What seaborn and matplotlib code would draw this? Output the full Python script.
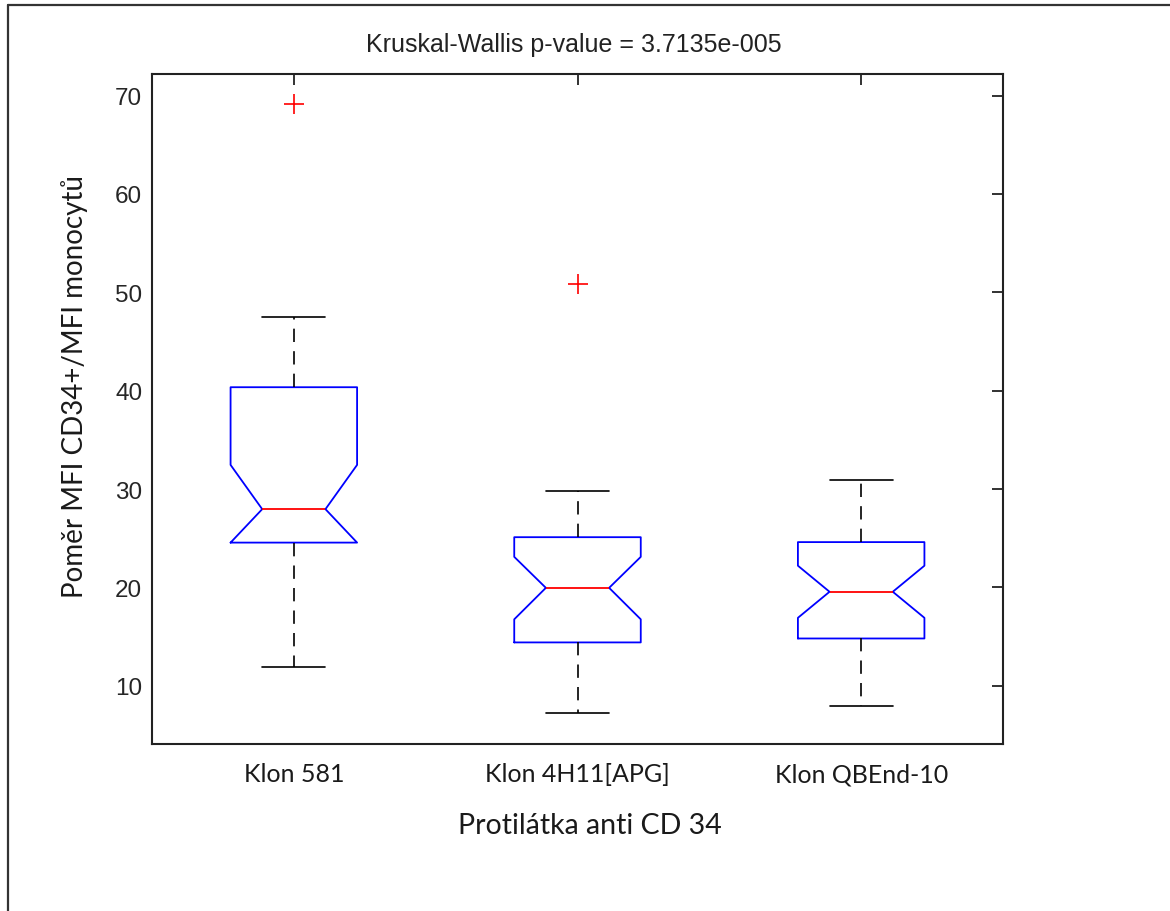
import matplotlib
matplotlib.use('Agg')
import matplotlib.pyplot as plt
import matplotlib.lines as mlines
import pandas as pd
import seaborn as sns

# Box statistics (notched boxplot, MATLAB look)
clones = ['Klon 581', 'Klon 4H11[APG]', 'Klon QBEnd-10']
q1 = [24.55, 14.4, 14.8]
medians = [27.95, 19.95, 19.55]
q3 = [40.35, 25.1, 24.6]
notch_lo = [24.55, 16.75, 16.9]
notch_hi = [32.45, 23.1, 22.2]
whisker_lo = [11.85, 7.2, 7.95]
whisker_hi = [47.5, 29.75, 30.9]

# Outliers (red +)
outlier_clone = ['Klon 581', 'Klon 4H11[APG]']
outlier_values = [69.2, 50.85]

title = 'Kruskal-Wallis p-value = 3.7135e-005'
xlabel = 'Protilátka anti CD 34'
ylabel = 'Poměr MFI CD34+/MFI monocytů'

sns.set_style('white')
plt.rcParams['font.family'] = ['Liberation Sans', 'DejaVu Sans']

fig = plt.figure(figsize=(11.7, 9.12), dpi=100)
ax = fig.add_axes([152 / 1170, 1 - 745 / 912, (1003 - 152) / 1170, (745 - 75) / 912])

# build the stats for bxp
stats = []
for i in range(len(clones)):
    stats.append({
        'label': clones[i],
        'med': medians[i],
        'q1': q1[i],
        'q3': q3[i],
        'cilo': notch_lo[i],
        'cihi': notch_hi[i],
        'whislo': whisker_lo[i],
        'whishi': whisker_hi[i],
        'fliers': [],
    })

ax.bxp(stats, positions=range(len(clones)), widths=0.446, shownotches=True,
       showfliers=False,
       boxprops=dict(color='blue', linewidth=1.3),
       medianprops=dict(color='red', linewidth=1.3),
       whiskerprops=dict(color='black', linewidth=1.2, linestyle=(0, (8, 5.5))),
       capprops=dict(color='black', linewidth=1.2))

# outliers through seaborn
out_df = pd.DataFrame({
    'pos': [clones.index(c) for c in outlier_clone],
    'value': outlier_values,
})
sns.scatterplot(data=out_df, x='pos', y='value', marker='+', color='red',
                s=190, linewidth=1.2, ax=ax, zorder=5)

ax.set_xlim(-0.5, 2.5)
ax.set_ylim(4.07, 72.2)
ax.set_yticks([10, 20, 30, 40, 50, 60, 70])
ax.set_xticks(range(len(clones)))
ax.set_xticklabels(clones, fontfamily='Lato', fontsize=18, color='#1a1a1a')
ax.set_xlabel('')
ax.set_ylabel('')
ax.tick_params(direction='in', length=8, width=1.3, top=True, right=True,
               color='#222222')
ax.tick_params(axis='y', pad=7, labelsize=17.5)
ax.tick_params(axis='x', pad=13)
for sp in ax.spines.values():
    sp.set_linewidth(1.5)
    sp.set_color('#222222')
    sp.set_visible(True)

fig.text(574 / 1170, 1 - 45 / 912, title, ha='center', va='center', fontsize=18,
         color='#222222')
fig.text(590 / 1170, 1 - 826 / 912, xlabel, ha='center', va='center',
         fontfamily='Lato', fontsize=20.5, color='#1a1a1a')
fig.text(75 / 1170, 1 - 387 / 912, ylabel, ha='center', va='center', rotation=90,
         fontfamily='Lato', fontsize=20, color='#1a1a1a')

# outer frame (left and top edges only)
fig.add_artist(mlines.Line2D([8 / 1170, 8 / 1170], [0, 1 - 6 / 912],
                             transform=fig.transFigure, color='#333333', lw=1.6))
fig.add_artist(mlines.Line2D([8 / 1170, 1], [1 - 6 / 912, 1 - 6 / 912],
                             transform=fig.transFigure, color='#333333', lw=1.6))

fig.savefig('out.png', dpi=100, facecolor='white')
